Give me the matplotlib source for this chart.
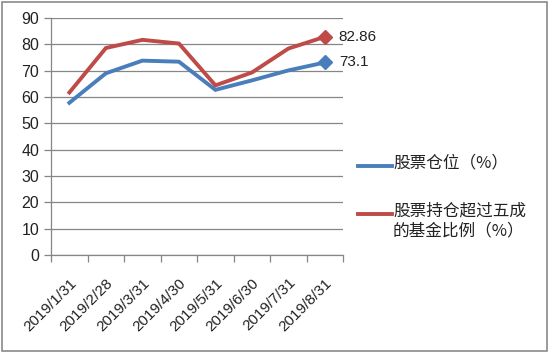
import matplotlib.pyplot as plt
from matplotlib.lines import Line2D

plt.rcParams['font.family'] = ['Noto Sans CJK SC', 'DejaVu Sans']

# data
dates = ['2019/1/31', '2019/2/28', '2019/3/31', '2019/4/30',
         '2019/5/31', '2019/6/30', '2019/7/31', '2019/8/31']
position = [57.8, 69.0, 73.8, 73.4, 62.7, 66.3, 70.1, 73.1]
over_half = [61.7, 78.6, 81.7, 80.3, 64.4, 69.3, 78.4, 82.86]
names = ['股票仓位（%）', '股票持仓超过五成\n的基金比例（%）']

blue = '#4a7ebb'
red = '#be4b48'
grey = '#868686'
num_font = ['Liberation Sans', 'DejaVu Sans']

fig = plt.figure(figsize=(5.5, 3.53), dpi=100)
ax = fig.add_axes([0.093, 0.278, 0.531, 0.671])

x = list(range(len(dates)))
for vals, col in [(position, blue), (over_half, red)]:
    ax.plot(x, vals, color=col, lw=2.8, solid_joinstyle='miter')
    ax.plot(x[-1], vals[-1], marker='D', color=col, ms=7.5, ls='none')
    ax.annotate(f'{vals[-1]:g}', (x[-1], vals[-1]), xytext=(10, 0),
                textcoords='offset points', va='center', ha='left',
                fontsize=11, color='#222222', family=num_font,
                annotation_clip=False)

ax.set_xlim(-0.5, len(dates) - 0.5)
ax.set_ylim(0, 90)
ax.set_yticks(range(0, 91, 10))
ax.yaxis.grid(True, color=grey, lw=0.9)
ax.set_axisbelow(True)

ax.set_xticks(x)
ax.set_xticklabels(dates, rotation=45, ha='right', rotation_mode='anchor',
                   fontsize=11, family=num_font, color='#222222')
ax.set_xticks([i - 0.5 for i in range(len(dates) + 1)], minor=True)
ax.tick_params(axis='x', which='major', length=0, pad=15)
ax.tick_params(axis='x', which='minor', length=5, color=grey, width=0.9)
ax.tick_params(axis='y', length=5, color=grey, width=0.9, labelsize=11.5,
               labelcolor='#222222')
for lab in ax.get_yticklabels():
    lab.set_family(num_font)

for s in ['top', 'right']:
    ax.spines[s].set_visible(False)
for s in ['left', 'bottom']:
    ax.spines[s].set_color(grey)
    ax.spines[s].set_linewidth(0.9)

# legend on the right
leg_y = [1 - 166 / 353, 1 - 214 / 353]
for (name, col, yy) in zip(names, [blue, red], leg_y):
    fig.add_artist(Line2D([358 / 550, 392 / 550], [yy, yy], color=col, lw=2.8,
                          transform=fig.transFigure))
    fig.text(393 / 550, yy + 0.033, name, fontsize=12, va='top', ha='left',
             linespacing=1.25, color='#222222',
             transform=fig.transFigure)

# outer frame
fig.add_artist(plt.Rectangle((0.004, 0.006), 0.99, 0.988, fill=False,
                             ec='#8a8a8a', lw=1.2, transform=fig.transFigure))

fig.savefig('out.png', dpi=100)
